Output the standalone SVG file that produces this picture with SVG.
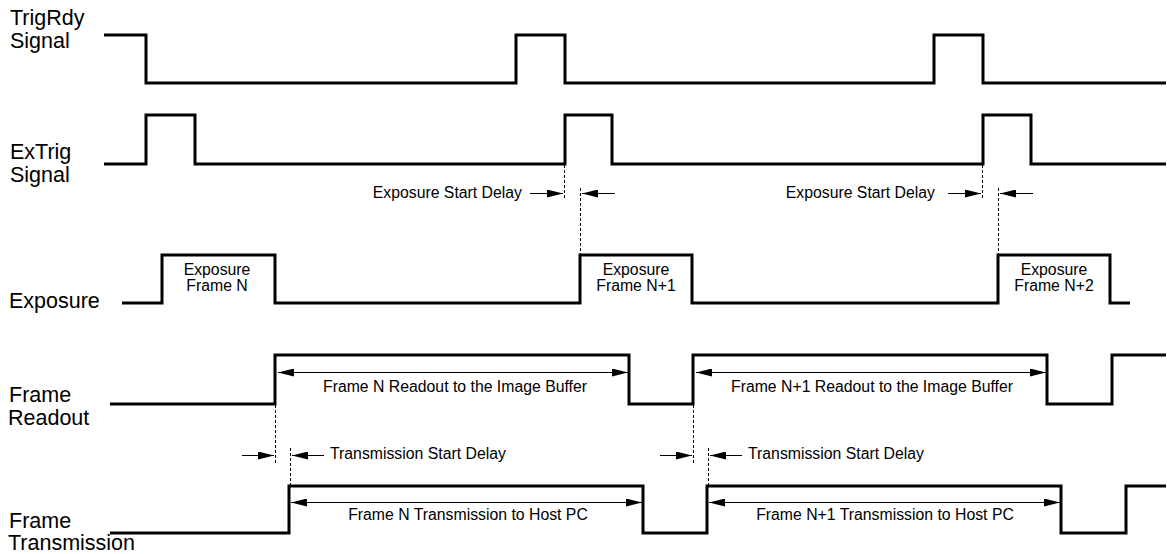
<svg xmlns="http://www.w3.org/2000/svg" width="1167" height="554" viewBox="0 0 1167 554">
<style>
.wave{fill:none;stroke:#000;stroke-width:3;stroke-linejoin:miter}
.dash{fill:none;stroke:#000;stroke-width:1;stroke-dasharray:3,2}
.arr{fill:none;stroke:#000;stroke-width:1}
.lbl{font-family:"Liberation Sans",Arial,sans-serif;font-size:21.5px;fill:#000}
.sm{font-family:"Liberation Sans",Arial,sans-serif;font-size:15.8px;fill:#000}
</style>
<defs>
<marker id="ah" viewBox="0 0 16 8" refX="16" refY="4" markerWidth="16" markerHeight="8" markerUnits="userSpaceOnUse" orient="auto">
<path d="M0,0 L16,4 L0,8 Z" fill="#000"/>
</marker>
<marker id="ahs" viewBox="0 0 16 8" refX="0" refY="4" markerWidth="16" markerHeight="8" markerUnits="userSpaceOnUse" orient="auto">
<path d="M16,0 L0,4 L16,8 Z" fill="#000"/>
</marker>
</defs>
<rect width="1167" height="554" fill="#fff"/>
<g id="trigrdy">
<text class="lbl" x="10" y="25">TrigRdy</text>
<text class="lbl" x="10" y="48">Signal</text>
<polyline class="wave" points="104,35 146,35 146,83 516,83 516,35 565,35 565,83 934,83 934,35 983,35 983,83 1166,83"/>
</g>
<g id="extrig">
<text class="lbl" x="10" y="159">ExTrig</text>
<text class="lbl" x="10" y="182">Signal</text>
<polyline class="wave" points="104,164 146,164 146,115 195,115 195,164 565,164 565,115 612,115 612,164 983,164 983,115 1031,115 1031,164 1166,164"/>
</g>
<g id="exposure">
<text class="lbl" x="9" y="308">Exposure</text>
<polyline class="wave" points="122,303 162,303 162,255 275,255 275,303 580,303 580,255 692,255 692,303 998,303 998,255 1110,255 1110,303 1130,303"/>
<text class="sm" x="217" y="275" text-anchor="middle">Exposure</text>
<text class="sm" x="217" y="291" text-anchor="middle">Frame N</text>
<text class="sm" x="636" y="275" text-anchor="middle">Exposure</text>
<text class="sm" x="636" y="291" text-anchor="middle">Frame N+1</text>
<text class="sm" x="1054" y="275" text-anchor="middle">Exposure</text>
<text class="sm" x="1054" y="291" text-anchor="middle">Frame N+2</text>
</g>
<g id="readout">
<text class="lbl" x="9" y="402">Frame</text>
<text class="lbl" x="8" y="425">Readout</text>
<polyline class="wave" points="110,404 275,404 275,355 629,355 629,404 693,404 693,355 1047,355 1047,404 1112,404 1112,355 1166,355"/>
<text class="sm" x="455" y="392" text-anchor="middle">Frame N Readout to the Image Buffer</text>
<text class="sm" x="872" y="392" text-anchor="middle">Frame N+1 Readout to the Image Buffer</text>
</g>
<g id="transmission">
<text class="lbl" x="9" y="528">Frame</text>
<text class="lbl" x="8" y="550">Transmission</text>
<polyline class="wave" points="110,533 289,533 289,486 643,486 643,533 707,533 707,486 1061,486 1061,533 1126,533 1126,486 1166,486"/>
<text class="sm" x="468" y="520" text-anchor="middle">Frame N Transmission to Host PC</text>
<text class="sm" x="885" y="520" text-anchor="middle">Frame N+1 Transmission to Host PC</text>
</g>
<g id="delays">
<text class="sm" x="522" y="198" text-anchor="end">Exposure Start Delay</text>
<text class="sm" x="935" y="198" text-anchor="end">Exposure Start Delay</text>
<text class="sm" x="330" y="459">Transmission Start Delay</text>
<text class="sm" x="748" y="459">Transmission Start Delay</text>
</g>
<g id="connectors">
<line class="dash" x1="564.5" y1="165" x2="564.5" y2="199"/>
<line class="dash" x1="580.5" y1="188" x2="580.5" y2="255"/>
<line class="dash" x1="982.5" y1="165" x2="982.5" y2="199"/>
<line class="dash" x1="998.5" y1="188" x2="998.5" y2="255"/>
<line class="dash" x1="275.5" y1="405" x2="275.5" y2="463"/>
<line class="dash" x1="290.5" y1="448" x2="290.5" y2="486"/>
<line class="dash" x1="693.5" y1="405" x2="693.5" y2="463"/>
<line class="dash" x1="708.5" y1="448" x2="708.5" y2="486"/>
<line class="arr" x1="530" y1="193.5" x2="563" y2="193.5" marker-end="url(#ah)"/>
<line class="arr" x1="615" y1="193.5" x2="582" y2="193.5" marker-end="url(#ah)"/>
<line class="arr" x1="948" y1="193.5" x2="981" y2="193.5" marker-end="url(#ah)"/>
<line class="arr" x1="1033" y1="193.5" x2="1000" y2="193.5" marker-end="url(#ah)"/>
<line class="arr" x1="242" y1="455.5" x2="274" y2="455.5" marker-end="url(#ah)"/>
<line class="arr" x1="324" y1="455.5" x2="292" y2="455.5" marker-end="url(#ah)"/>
<line class="arr" x1="660" y1="455.5" x2="692" y2="455.5" marker-end="url(#ah)"/>
<line class="arr" x1="742" y1="455.5" x2="710" y2="455.5" marker-end="url(#ah)"/>
<line class="arr" x1="278" y1="372.5" x2="628" y2="372.5" marker-start="url(#ahs)" marker-end="url(#ah)"/>
<line class="arr" x1="696" y1="372.5" x2="1046" y2="372.5" marker-start="url(#ahs)" marker-end="url(#ah)"/>
<line class="arr" x1="291" y1="502.5" x2="642" y2="502.5" marker-start="url(#ahs)" marker-end="url(#ah)"/>
<line class="arr" x1="709" y1="502.5" x2="1060" y2="502.5" marker-start="url(#ahs)" marker-end="url(#ah)"/>
</g>
</svg>
